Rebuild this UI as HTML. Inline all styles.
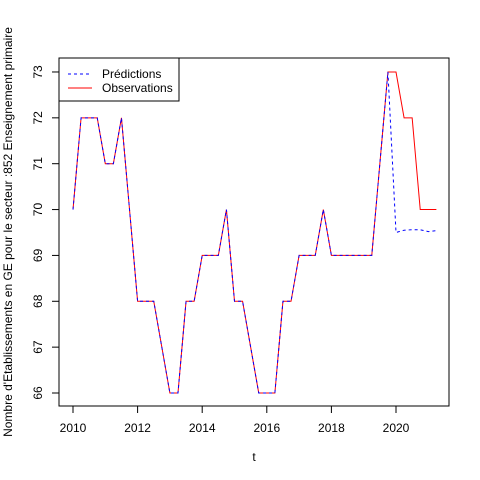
<!DOCTYPE html>
<html><head><meta charset="utf-8"><style>body{margin:0;background:#fff}svg{display:block;font-family:"Liberation Sans",sans-serif}</style></head>
<body>
<svg id="c" width="480" height="480"></svg>
<script>
const times=[2010,2010.25,2010.5,2010.75,2011,2011.25,2011.5,2011.75,2012,2012.25,2012.5,2012.75,2013,2013.25,2013.5,2013.75,2014,2014.25,2014.5,2014.75,2015,2015.25,2015.5,2015.75,2016,2016.25,2016.5,2016.75,2017,2017.25,2017.5,2017.75,2018,2018.25,2018.5,2018.75,2019,2019.25,2019.5,2019.75,2020,2020.25,2020.5,2020.75,2021,2021.25];
const observations=[70,72,72,72,71,71,72,70,68,68,68,67,66,66,68,68,69,69,69,70,68,68,67,66,66,66,68,68,69,69,69,70,69,69,69,69,69,69,71,73,73,72,72,70,70,70];
const predictions=[70,72,72,72,71,71,72,70,68,68,68,67,66,66,68,68,69,69,69,70,68,68,67,66,66,66,68,68,69,69,69,70,69,69,69,69,69,69,71,73,69.5,69.55,69.56,69.56,69.52,69.54];
const xTicks=[2010,2012,2014,2016,2018,2020];
const yTicks=[66,67,68,69,70,71,72,73];
const svg=document.getElementById('c');const NS='http://www.w3.org/2000/svg';
function X(t){return 73+(t-2010)*32.3;}
function Y(v){return 393-(v-66)*45.86;}
function mk(tag,a,p){const e=document.createElementNS(NS,tag);for(const k in a)e.setAttribute(k,a[k]);(p||svg).appendChild(e);return e;}
const frame=mk('rect',{x:59,y:58,width:390,height:348,fill:'none',stroke:'#000'});


xTicks.forEach(t=>{const l=mk('line',{x1:X(t),x2:X(t),y1:406,y2:413,stroke:'#000'});


const tx=mk('text',{x:X(t),y:432,'text-anchor':'middle','font-size':12});tx.textContent=t;

});
yTicks.forEach(v=>{const l=mk('line',{x1:52,x2:59,y1:Y(v),y2:Y(v),stroke:'#000'});


const tx=mk('text',{x:0,y:0,'text-anchor':'middle','font-size':12,transform:`translate(42,${Y(v)}) rotate(-90)`});tx.textContent=v;

});
const xt=mk('text',{x:254,y:461,'text-anchor':'middle','font-size':12});xt.textContent='t';


const yt=mk('text',{x:0,y:0,'text-anchor':'middle','font-size':12,transform:'translate(12,232) rotate(-90)'});yt.textContent="Nombre d'Etablissements en GE pour le secteur :852 Enseignement primaire";


const po=mk('polyline',{points:times.map((t,i)=>X(t)+','+Y(observations[i])).join(' '),fill:'none',stroke:'#ff0000','stroke-width':1});


const pp=mk('polyline',{points:times.map((t,i)=>X(t)+','+Y(predictions[i])).join(' '),fill:'none',stroke:'#0000ff','stroke-width':1,'stroke-dasharray':'3,3'});


const g=mk('g',{});


mk('rect',{x:59,y:58,width:120,height:43,fill:'#fff',stroke:'#000'},g);
mk('line',{x1:68,x2:92,y1:74,y2:74,stroke:'#0000ff','stroke-dasharray':'3,3'},g);
mk('line',{x1:68,x2:92,y1:88,y2:88,stroke:'#ff0000'},g);
const l1=mk('text',{x:102,y:78,'font-size':12},g);l1.textContent='Prédictions';


const l2=mk('text',{x:102,y:92,'font-size':12},g);l2.textContent='Observations';


</script>
</body></html>
